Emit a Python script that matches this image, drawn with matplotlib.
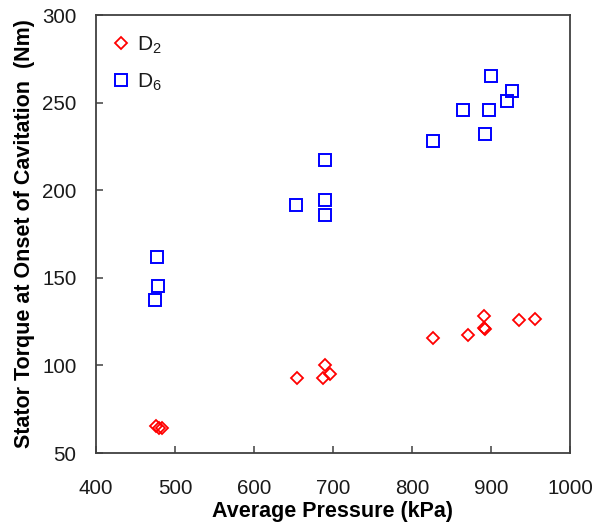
import matplotlib
matplotlib.use("Agg")
import matplotlib.pyplot as plt

plt.rcParams['font.family'] = ['Liberation Sans', 'DejaVu Sans']
plt.rcParams['mathtext.fontset'] = 'custom'
plt.rcParams['mathtext.rm'] = 'Liberation Sans'

# Average pressure (kPa) and stator torque (Nm)
d2_pressure = [476, 480, 483, 655, 690, 687, 696, 827, 871, 891, 891, 893, 935, 956]
d2_torque = [65.6, 64.3, 64.3, 92.8, 100.0, 92.8, 95.1, 115.8, 117.1, 128.3, 121.3, 120.5, 126.2, 126.6]

d6_pressure = [477, 479, 475, 653, 690, 690, 690, 827, 865, 897, 893, 900, 920, 927]
d6_torque = [162.0, 145.2, 137.1, 191.4, 217.5, 194.3, 185.9, 228.3, 245.6, 246.0, 232.1, 265.2, 250.8, 256.8]

xticks = [400, 500, 600, 700, 800, 900, 1000]
yticks = [50, 100, 150, 200, 250, 300]

fig = plt.figure(figsize=(5.94, 5.27), dpi=100)
ax = fig.add_axes([0.1616, 0.1404, 0.798, 0.8311])

ax.plot(d2_pressure, d2_torque, linestyle='none', marker='D', markersize=6.2,
        markerfacecolor='none', markeredgecolor='#ff0000', markeredgewidth=1.3,
        label='D$_\\mathregular{2}$')
ax.plot(d6_pressure, d6_torque, linestyle='none', marker='s', markersize=8.2,
        markerfacecolor='none', markeredgecolor='#0000ff', markeredgewidth=1.4,
        label='D$_\\mathregular{6}$')

ax.set_xlim(400, 1000)
ax.set_ylim(50, 300)
ax.set_xticks(xticks)
ax.set_yticks(yticks)

for side in ax.spines.values():
    side.set_color('#404040')
    side.set_linewidth(1.3)

ax.tick_params(direction='in', length=5, width=1.1, color='#404040',
               labelsize=14.8, labelcolor='#1a1a1a')
ax.tick_params(axis='x', pad=19)
ax.tick_params(axis='y', pad=14)

ax.set_xlabel('Average Pressure (kPa)', fontsize=15.5, fontweight='bold', labelpad=2)
ax.set_ylabel('Stator Torque at Onset of Cavitation  (Nm)', fontsize=15.5,
              fontweight='bold', labelpad=5)

ax.legend(loc='upper left', bbox_to_anchor=(0.0, 0.99), frameon=False,
          fontsize=15, handlelength=1.0, handletextpad=0.25, labelspacing=0.75,
          borderaxespad=0.3, labelcolor='#1a1a1a')

fig.savefig('out.png', dpi=100)
